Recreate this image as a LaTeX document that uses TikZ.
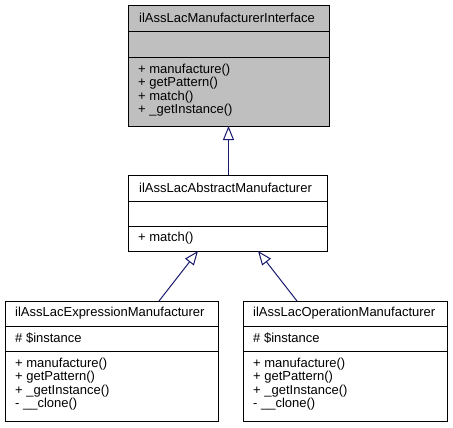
\documentclass[tikz,border=0pt]{standalone}
\usepackage{fontspec}
\setmainfont{Liberation Sans}
\usetikzlibrary{arrows.meta}
\definecolor{edgeblue}{HTML}{191970}
\definecolor{headgray}{HTML}{BFBFBF}
\begin{document}
\begin{tikzpicture}[x=1bp,y=-1bp,
  box/.style={draw=black, line width=1bp, inner sep=0pt, anchor=north west},
  sep/.style={draw=black, line width=1bp},
  txt/.style={anchor=west, inner sep=0pt, font=\fontsize{13bp}{15bp}\selectfont},
  inh/.style={draw=edgeblue, line width=1bp, -{Triangle[open, length=14bp, width=11bp, fill=white]}}]
\useasboundingbox (0,0) rectangle (453,427);

% Interface box
\node[box, fill=headgray, minimum width=201bp, minimum height=121bp] (iface) at (128,5) {};
\draw[sep] (128,31) -- (329,31);
\draw[sep] (128,57) -- (329,57);
\node[txt] (ifaceT) at (139,18) {ilAssLacManufacturerInterface};
\node[txt] (ifaceM1) at (138,70) {+ manufacture()};
\node[txt] (ifaceM2) at (138,83.5) {+ getPattern()};
\node[txt] (ifaceM3) at (138,97) {+ match()};
\node[txt] (ifaceM4) at (138,110.5) {+ \_getInstance()};

% Abstract box
\node[box, fill=white, minimum width=199bp, minimum height=76bp] (abs) at (128,175) {};
\draw[sep] (128,201) -- (327,201);
\draw[sep] (128,226) -- (327,226);
\node[txt] (absT) at (139,188) {ilAssLacAbstractManufacturer};
\node[txt] (absM1) at (138,238.5) {+ match()};

% Expression box
\node[box, fill=white, minimum width=213bp, minimum height=120bp] (expr) at (5,301) {};
\draw[sep] (5,326) -- (218,326);
\draw[sep] (5,351) -- (218,351);
\node[txt] (exprT) at (15,313.5) {ilAssLacExpressionManufacturer};
\node[txt] (exprA1) at (15,338.5) {\# \$instance};
\node[txt] (exprM1) at (15,364) {+ manufacture()};
\node[txt] (exprM2) at (15,377.5) {+ getPattern()};
\node[txt] (exprM3) at (15,391) {+ \_getInstance()};
\node[txt] (exprM4) at (15,404.5) {- \_\_clone()};

% Operation box
\node[box, fill=white, minimum width=204bp, minimum height=120bp] (oper) at (243,301) {};
\draw[sep] (243,326) -- (447,326);
\draw[sep] (243,351) -- (447,351);
\node[txt] (operT) at (253,313.5) {ilAssLacOperationManufacturer};
\node[txt] (operA1) at (253,338.5) {\# \$instance};
\node[txt] (operM1) at (253,364) {+ manufacture()};
\node[txt] (operM2) at (253,377.5) {+ getPattern()};
\node[txt] (operM3) at (253,391) {+ \_getInstance()};
\node[txt] (operM4) at (253,404.5) {- \_\_clone()};

% connectors
\coordinate (absTop) at (228.5,175);
\coordinate (ifaceBot) at (228.5,126);
\coordinate (exprTop) at (159,301);
\coordinate (absBotL) at (198,251);
\coordinate (operTop) at (297,301);
\coordinate (absBotR) at (258,251);
\draw[inh] (absTop) -- (ifaceBot);
\draw[inh] (exprTop) -- (absBotL);
\draw[inh] (operTop) -- (absBotR);
\end{tikzpicture}
\end{document}
